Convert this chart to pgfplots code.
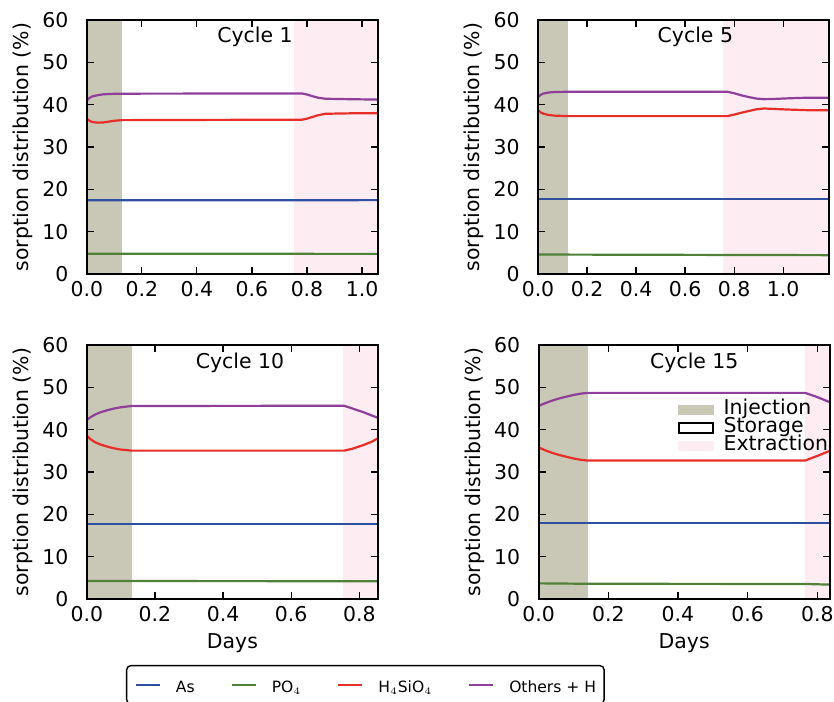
\documentclass[border=0pt]{standalone}
\usepackage{fontspec}
\setmainfont{DejaVu Sans}
\usepackage{pgfplots}
\pgfplotsset{compat=1.18}

\definecolor{cAs}{RGB}{47,79,160}
\definecolor{cPO}{RGB}{79,129,54}
\definecolor{cSi}{RGB}{232,46,40}
\definecolor{cOt}{RGB}{143,63,154}
\definecolor{cInj}{RGB}{201,199,181}
\definecolor{cExt}{RGB}{253,237,243}

\pgfplotsset{
  cyc/.style={
    scale only axis, width=145.6bp, height=127bp,
    xmin=0, ymin=0, ymax=60,
    ytick={0,10,...,60},
    tick align=inside, major tick length=3.5bp,
    xtick pos=both, ytick pos=both,
    xticklabel pos=lower, yticklabel pos=left,
    axis on top,
    axis line style={line width=1bp},
    every tick/.style={black, line width=0.6bp},
    font=\fontsize{10.25}{12}\selectfont,
    /pgf/number format/assume math mode=true,
    xticklabel style={/pgf/number format/fixed, /pgf/number format/fixed zerofill, /pgf/number format/precision=1, anchor=north, inner sep=0pt, yshift=-3.5bp},
    yticklabel style={anchor=east, inner sep=0pt, xshift=-9bp},
    ylabel={sorption distribution (\%)},
    every axis y label/.style={at={(axis description cs:-0.22,0.5)}, rotate=90, anchor=center},
    every axis x label/.style={at={(axis description cs:0.5,-0.193)}, anchor=base},
    every axis plot/.append style={line width=1.1bp},
  },
  fillimg/.style={legend image code/.code={\fill[##1] (0bp,-2.5bp) rectangle (18bp,2.5bp);}},
}

\begin{document}
\begin{tikzpicture}
\useasboundingbox (0,0) rectangle (417bp,-351bp);

% ---------------- Cycle 1
\begin{axis}[cyc, at={(43.4bp,-137bp)}, anchor=south west,
  xmax=1.058, xtick={0,0.2,...,1.0}]
\addplot[fill=cInj, draw=none, forget plot] coordinates {(0,60) (0.127,60)} \closedcycle;
\addplot[fill=cExt, draw=none, forget plot] coordinates {(0.754,60) (1.2,60)} \closedcycle;
\addplot[cAs] coordinates {(0,17.4) (1.058,17.45)};
\addplot[cPO] coordinates {(0,4.8) (1.058,4.75)};
\addplot[cSi] coordinates {(0,36.7) (0.01,36.2) (0.02,35.9) (0.04,35.75) (0.06,35.8) (0.08,36.0) (0.1,36.2) (0.127,36.35) (0.4,36.4) (0.782,36.45) (0.80,36.7) (0.82,37.1) (0.84,37.5) (0.867,37.85) (0.95,37.95) (1.058,38.0)};
\addplot[cOt] coordinates {(0,41.0) (0.01,41.6) (0.02,41.95) (0.04,42.25) (0.06,42.45) (0.09,42.55) (0.127,42.6) (0.782,42.65) (0.80,42.4) (0.82,42.0) (0.84,41.65) (0.867,41.4) (0.95,41.3) (1.058,41.2)};
\node[anchor=base west] at (axis description cs:0.424,0.910) {Cycle 1};
\end{axis}

% ---------------- Cycle 5
\begin{axis}[cyc, at={(269bp,-137bp)}, anchor=south west,
  xmax=1.188, xtick={0,0.2,...,1.0}]
\addplot[fill=cInj, draw=none, forget plot] coordinates {(0,60) (0.124,60)} \closedcycle;
\addplot[fill=cExt, draw=none, forget plot] coordinates {(0.755,60) (1.3,60)} \closedcycle;
\addplot[cAs] coordinates {(0,17.7) (1.188,17.7)};
\addplot[cPO] coordinates {(0,4.6) (1.188,4.45)};
\addplot[cSi] coordinates {(0,38.7) (0.01,38.2) (0.02,37.9) (0.04,37.6) (0.07,37.4) (0.124,37.3) (0.773,37.3) (0.80,37.65) (0.83,38.1) (0.86,38.5) (0.89,38.9) (0.922,39.1) (0.96,39.0) (1.02,38.85) (1.1,38.7) (1.188,38.7)};
\addplot[cOt] coordinates {(0,41.8) (0.01,42.3) (0.02,42.6) (0.04,42.85) (0.07,43.0) (0.124,43.05) (0.773,43.05) (0.80,42.7) (0.83,42.2) (0.86,41.8) (0.89,41.45) (0.922,41.3) (0.96,41.35) (1.02,41.5) (1.1,41.65) (1.188,41.65)};
\node[anchor=base west] at (axis description cs:0.387,0.911) {Cycle 5};
\end{axis}

% ---------------- Cycle 10
\begin{axis}[cyc, at={(43.4bp,-299.5bp)}, anchor=south west,
  xmax=0.855, xtick={0,0.2,...,0.8}, xlabel={Days},
  legend columns=4,
  legend style={at={(axis description cs:0.1346,-0.2598)}, anchor=north west,
    draw=black, line width=0.7bp, rounded corners=2bp,
    inner xsep=4bp, inner ysep=5.65bp,
    font=\fontsize{7.8}{9}\selectfont,
    nodes={inner sep=0pt, text height=7.7bp, text depth=0pt},
    /tikz/every odd column/.append style={column sep=7.5bp},
    /tikz/every even column/.append style={column sep=18bp}},
  legend cell align=left,
  legend image code/.code={\draw[#1] (0bp,0bp) -- (12bp,0bp);}]
\addplot[fill=cInj, draw=none, forget plot] coordinates {(0,60) (0.132,60)} \closedcycle;
\addplot[fill=cExt, draw=none, forget plot] coordinates {(0.753,60) (1.0,60)} \closedcycle;
\addplot[cAs] coordinates {(0,17.8) (0.855,17.8)};
\addlegendentry{As}
\addplot[cPO] coordinates {(0,4.25) (0.855,4.2)};
\addlegendentry{PO$_4$}
\addplot[cSi] coordinates {(0,38.6) (0.01,37.8) (0.025,37.0) (0.04,36.5) (0.06,36.0) (0.08,35.6) (0.1,35.3) (0.132,35.05) (0.756,35.05) (0.78,35.5) (0.81,36.3) (0.835,37.1) (0.855,37.95)};
\addlegendentry{H$_4$SiO$_4$}
\addplot[cOt] coordinates {(0,42.3) (0.01,42.9) (0.025,43.6) (0.04,44.1) (0.06,44.6) (0.08,45.0) (0.1,45.3) (0.132,45.6) (0.756,45.65) (0.78,45.0) (0.81,44.2) (0.835,43.4) (0.855,42.8)};
\addlegendentry{Others + H}
\node[anchor=base west] at (axis description cs:0.350,0.908) {Cycle 10};
\end{axis}

% ---------------- Cycle 15
\begin{axis}[cyc, at={(269.3bp,-299.5bp)}, anchor=south west,
  xmax=0.836, xtick={0,0.2,...,0.8}, xlabel={Days},
  legend style={at={(axis description cs:0.4763,0.7795)}, anchor=north west,
    draw=none, fill=none, inner sep=0pt, row sep=0pt,
    font=\fontsize{10.25}{12}\selectfont,
    nodes={inner sep=0pt, text height=6.5bp, text depth=2.5bp},
    /tikz/every odd column/.append style={column sep=5bp}},
  legend cell align=left]
\addplot[fill=cInj, draw=none, fillimg] coordinates {(0,60) (0.141,60)} \closedcycle;
\addlegendentry{Injection}
\addlegendimage{legend image code/.code={\draw[black, line width=1bp, fill=white] (0.5bp,-2.5bp) rectangle (17.5bp,2.5bp);}}
\addlegendentry{Storage}
\addplot[fill=cExt, draw=none, fillimg] coordinates {(0.765,60) (1.0,60)} \closedcycle;
\addlegendentry{Extraction}
\addplot[cAs, forget plot] coordinates {(0,17.9) (0.836,17.9)};
\addplot[cPO, forget plot] coordinates {(0,3.7) (0.141,3.6) (0.765,3.55) (0.836,3.4)};
\addplot[cSi, forget plot] coordinates {(0,35.8) (0.02,35.1) (0.04,34.5) (0.06,34.0) (0.08,33.6) (0.1,33.2) (0.12,32.9) (0.141,32.7) (0.765,32.7) (0.80,33.8) (0.836,35.0)};
\addplot[cOt, forget plot] coordinates {(0,45.6) (0.02,46.3) (0.04,46.9) (0.06,47.4) (0.08,47.8) (0.1,48.2) (0.12,48.5) (0.141,48.7) (0.765,48.7) (0.80,47.7) (0.836,46.5)};
\node[anchor=base west] at (axis description cs:0.359,0.908) {Cycle 15};
\end{axis}
\end{tikzpicture}
\end{document}
